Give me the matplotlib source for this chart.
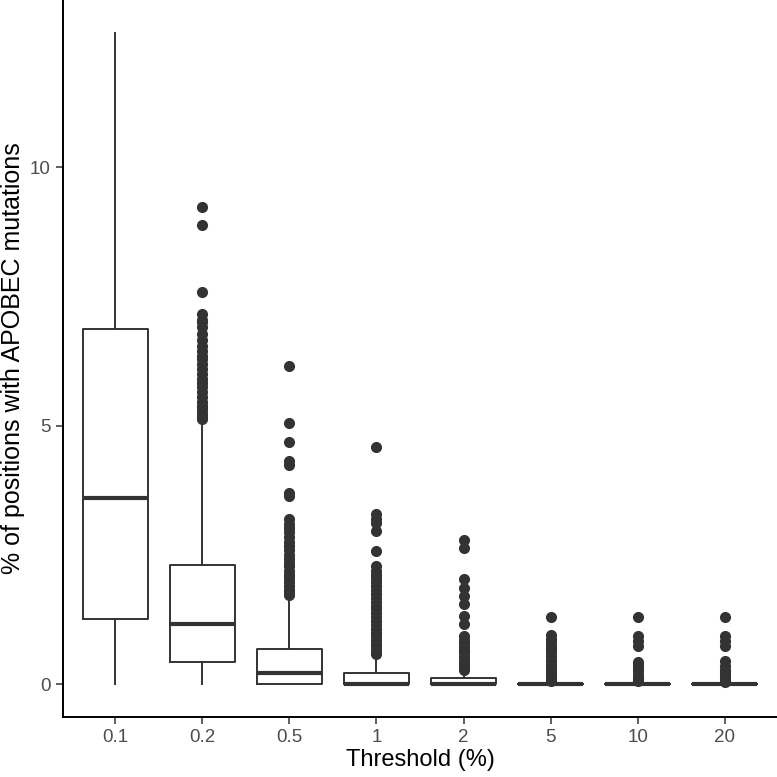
import matplotlib
matplotlib.use("Agg")
import matplotlib.pyplot as plt

plt.rcParams['font.family'] = ['Liberation Sans', 'DejaVu Sans']

thresholds = ["0.1", "0.2", "0.5", "1", "2", "5", "10", "20"]

# box statistics
q1 = [1.26, 0.43, 0.0, 0.0, 0.0, 0.0, 0.0, 0.0]
medians = [3.60, 1.16, 0.23, 0.0, 0.0, 0.0, 0.0, 0.0]
q3 = [6.87, 2.30, 0.68, 0.23, 0.12, 0.0, 0.0, 0.0]
whisk_lo = [0.0, 0.0, 0.0, 0.0, 0.0, 0.0, 0.0, 0.0]
whisk_hi = [12.6, 5.07, 1.68, 0.52, 0.22, 0.0, 0.0, 0.0]

# outliers
fliers_01 = []
fliers_02 = [9.22, 8.88, 7.58, 7.16, 7.05, 7.0, 6.9, 6.77, 6.65, 6.54, 6.45, 6.35,
             6.29, 6.2, 6.09, 6.0, 5.9, 5.82, 5.74, 5.65, 5.55, 5.45, 5.38, 5.32,
             5.25, 5.18, 5.13]
fliers_05 = [6.15, 5.05, 4.68, 4.32, 4.25, 3.7, 3.65, 3.19, 3.1, 3.02, 2.95, 2.85,
             2.75, 2.68, 2.6, 2.5, 2.42, 2.35, 2.28, 2.2, 2.12, 2.05, 1.98, 1.9,
             1.83, 1.76, 1.72]
fliers_1 = [4.58, 3.29, 3.2, 3.12, 2.96, 2.57, 2.28, 2.2, 2.12, 2.05, 1.97, 1.9,
            1.82, 1.75, 1.67, 1.6, 1.52, 1.45, 1.38, 1.3, 1.22, 1.15, 1.08, 1.0,
            0.93, 0.86, 0.79, 0.72, 0.65, 0.58]
fliers_2 = [2.8, 2.63, 2.03, 1.87, 1.7, 1.55, 1.32, 1.16, 0.93, 0.86, 0.8, 0.73,
            0.66, 0.6, 0.53, 0.46, 0.4, 0.33, 0.27]
fliers_5 = [1.30, 0.95, 0.88, 0.82, 0.75, 0.68, 0.62, 0.55, 0.48, 0.42, 0.36, 0.3,
            0.24, 0.18, 0.12, 0.06]
fliers_10 = [1.30, 0.93, 0.83, 0.74, 0.43, 0.37, 0.31, 0.25, 0.19, 0.13, 0.07]
fliers_20 = [1.30, 0.93, 0.83, 0.74, 0.45, 0.35, 0.28, 0.22, 0.16, 0.1, 0.05]
fliers = [fliers_01, fliers_02, fliers_05, fliers_1, fliers_2, fliers_5,
          fliers_10, fliers_20]

stats = []
for i in range(len(thresholds)):
    stats.append({'label': thresholds[i], 'q1': q1[i], 'med': medians[i],
                  'q3': q3[i], 'whislo': whisk_lo[i], 'whishi': whisk_hi[i],
                  'fliers': fliers[i]})

fig = plt.figure(figsize=(7.77, 7.77), dpi=100)
ax = fig.add_axes([63 / 777, 60 / 777, 714 / 777, 717 / 777])

dark = '#333333'
ax.bxp(stats, positions=range(1, 9), widths=0.75, showcaps=False,
       boxprops=dict(color=dark, linewidth=1.4),
       whiskerprops=dict(color=dark, linewidth=1.4),
       medianprops=dict(color=dark, linewidth=3.0, solid_capstyle='butt'),
       flierprops=dict(marker='o', markerfacecolor=dark, markeredgecolor=dark,
                       markersize=7, linestyle='none'))

ax.set_xlim(0.4, 8.6)
ax.set_ylim(-0.63, 13.23)
ax.set_yticks([0, 5, 10])
ax.set_yticklabels(['0', '5', '10'])
ax.set_xticks(range(1, 9))
ax.set_xticklabels(thresholds)

for side in ['top', 'right']:
    ax.spines[side].set_visible(False)
for side in ['left', 'bottom']:
    ax.spines[side].set_color('black')
    ax.spines[side].set_linewidth(1.4)

ax.tick_params(axis='both', colors='#333333', length=5, width=1.1,
               labelsize=13.5, labelcolor='#4D4D4D', pad=4)
ax.set_xlabel('Threshold (%)', fontsize=17, color='black', labelpad=2)
ax.set_ylabel('% of positions with APOBEC mutations', fontsize=18,
              color='black', labelpad=3)

fig.savefig('out.png', dpi=100, facecolor='white')
